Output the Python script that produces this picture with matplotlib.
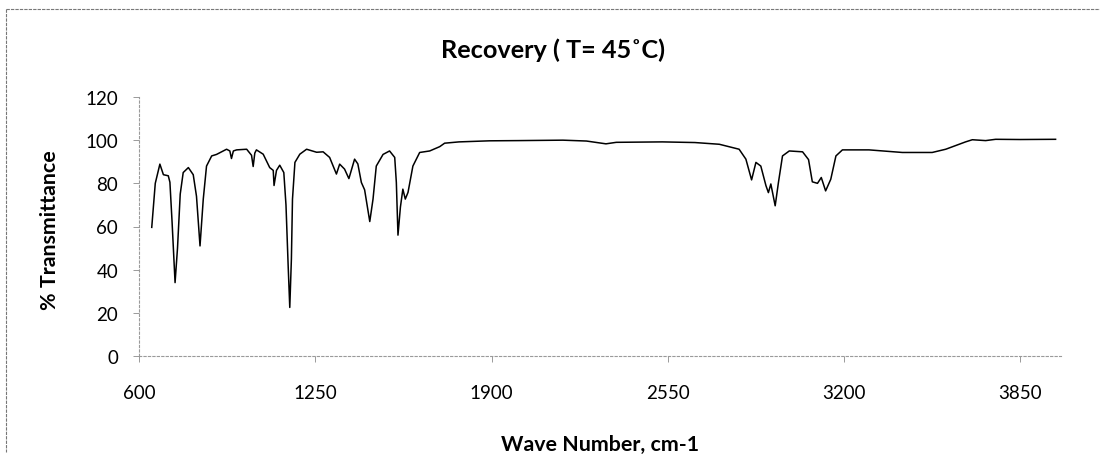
import matplotlib
matplotlib.use("Agg")
import matplotlib.pyplot as plt
from matplotlib.lines import Line2D

plt.rcParams['font.family'] = ['Lato', 'DejaVu Sans']

# FTIR spectrum: wave number (cm-1) and % transmittance
wavenumber = [647, 660, 677, 690, 708, 714, 722, 733, 742, 752, 763, 782, 800, 812,
              825, 837, 849, 868, 886, 923, 935, 941, 948, 960, 997, 1015, 1021,
              1027, 1033, 1058, 1082, 1095, 1098, 1107, 1119, 1134, 1142, 1150,
              1156, 1162, 1166, 1175, 1193, 1218, 1255, 1279, 1303, 1328, 1340,
              1358, 1374, 1395, 1407, 1420, 1432, 1451, 1463, 1475, 1500, 1524,
              1543, 1549, 1555, 1564, 1573, 1582, 1592, 1610, 1635, 1672, 1709,
              1727, 1780, 1893, 2000, 2163, 2250, 2322, 2360, 2530, 2650, 2740,
              2813, 2838, 2859, 2875, 2893, 2912, 2921, 2930, 2946, 2958, 2973,
              2998, 3047, 3069, 3083, 3102, 3116, 3132, 3151, 3170, 3194, 3292,
              3415, 3525, 3575, 3648, 3673, 3722, 3759, 3850, 3980]
transmittance = [59.6, 80, 88.9, 84, 83.5, 80.5, 62, 34, 50, 75, 85, 87.3, 84, 74,
                 51, 72.7, 88, 92.7, 93.4, 95.8, 95, 91.5, 95, 95.5, 95.8, 93, 87.8,
                 94, 95.5, 93.5, 87.3, 86, 79, 86, 88.4, 85, 70, 42,
                 22.5, 45, 72.7, 89.7, 93.5, 95.8, 94.4, 94.6, 92, 84.3, 88.9,
                 86.6, 82.2, 91.2, 89, 80.4, 77, 62.3, 72.7, 88, 93.4, 95,
                 92, 80.4, 56, 69, 77.3, 72.7, 75.8, 88, 94.3, 95, 97,
                 98.6, 99.2, 99.7, 99.8, 100, 99.6, 98.3, 99.0, 99.2, 98.9, 98.1,
                 95.8, 91.2, 81.6, 89.7, 88, 78.9, 75.7, 79.7, 69.6, 80.4, 92.7,
                 95, 94.6, 91, 80.7, 80, 82.7, 76.5, 81.9, 92.7, 95.5, 95.5,
                 94.3, 94.3, 95.8, 99.2, 100.2, 99.8, 100.4, 100.3, 100.4]

x_ticks = [600, 1250, 1900, 2550, 3200, 3850]
y_ticks = [0, 20, 40, 60, 80, 100, 120]

title_text = "Recovery ( T= 45\u02daC)"
x_label = "Wave Number, cm-1"
y_label = "% Transmittance"

W, H = 1100, 477
fig = plt.figure(figsize=(W / 100, H / 100), dpi=100)
fig.patch.set_facecolor("white")

# outer chart frame (top and left edges)
fig.add_artist(Line2D([6 / W, 1.0], [1 - 10 / H, 1 - 10 / H], color="#777777",
                      lw=0.8, ls=(0, (3, 1))))
fig.add_artist(Line2D([6 / W, 6 / W], [1 - 10 / H, 0.05], color="#777777",
                      lw=0.8, ls=(0, (3, 1))))

ax = fig.add_axes([139 / W, 120 / H, 922 / W, 259 / H])
ax.plot(wavenumber, transmittance, color="black", lw=1.1)

ax.set_xlim(600, 4000)
ax.set_ylim(0, 120)
ax.set_xticks(x_ticks)
ax.set_yticks(y_ticks)

for s in ("top", "right"):
    ax.spines[s].set_visible(False)
for s in ("left", "bottom"):
    ax.spines[s].set_color("#9a9a9a")
    ax.spines[s].set_linewidth(0.8)
    ax.spines[s].set_linestyle((0, (2, 2)))

ax.tick_params(axis="both", direction="out", length=4, width=0.7, color="#9a9a9a",
               labelsize=13.5, labelcolor="black")
ax.tick_params(axis="x", pad=16)
ax.tick_params(axis="y", pad=11)

t_title = fig.text(553 / W, 1 - 50 / H, title_text, ha="center", va="center",
                   fontsize=17, fontweight="bold")
t_x = fig.text(600 / W, 1 - 445 / H, x_label, ha="center", va="center",
               fontsize=14, fontweight="bold")
t_y = fig.text(50 / W, 1 - 230 / H, y_label, ha="center", va="center",
               fontsize=13.5, fontweight="bold", rotation=90)

# size the bold labels to their drawn extents in pixels
fig.canvas.draw()
renderer = fig.canvas.get_renderer()
for txt, target, use_width in ((t_title, 225, True), (t_x, 199, True), (t_y, 160, False)):
    bb = txt.get_window_extent(renderer)
    cur = bb.width if use_width else bb.height
    txt.set_fontsize(txt.get_fontsize() * target / cur)

fig.savefig("out.png", dpi=100, facecolor="white")
